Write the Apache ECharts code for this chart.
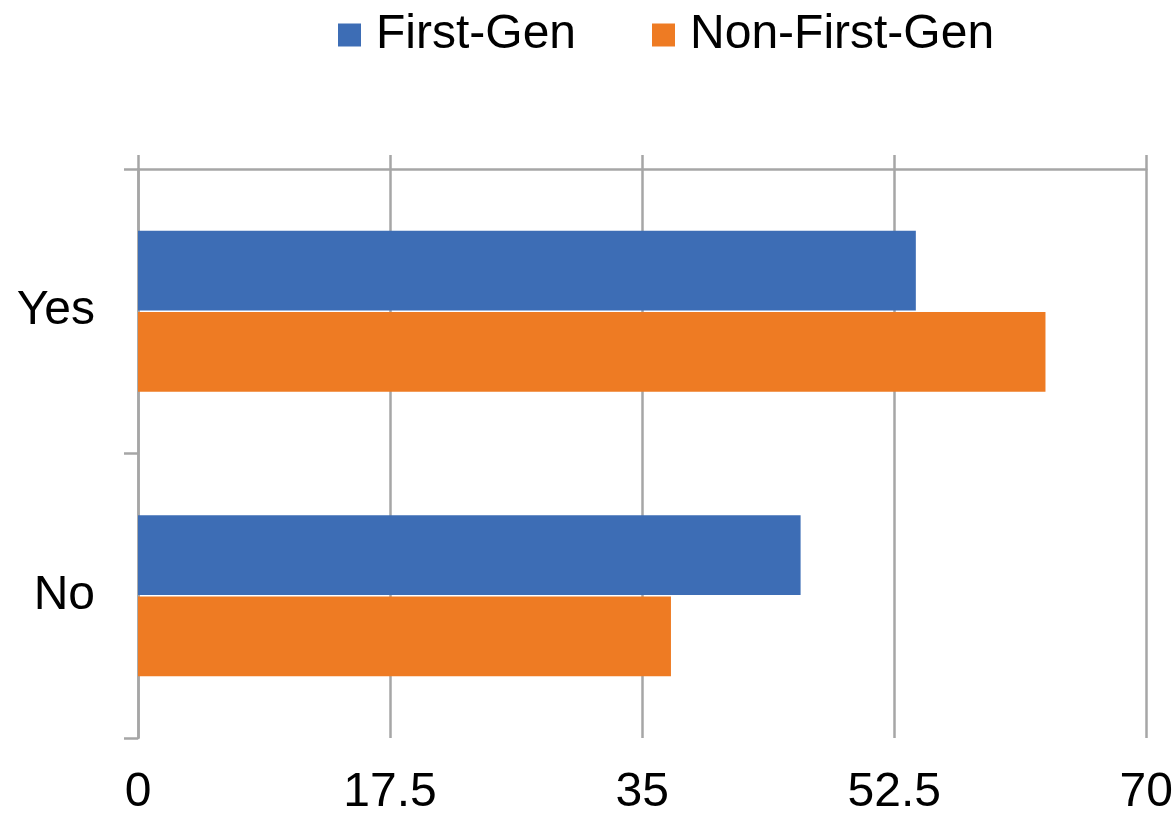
<!DOCTYPE html>
<html>
<head>
<meta charset="utf-8">
<script src="https://cdn.jsdelivr.net/npm/echarts@6/dist/echarts.min.js"></script>
<style>
  html, body { margin: 0; padding: 0; background: #fff; }
  #chart { width: 1176px; height: 817px; }
</style>
</head>
<body>
<div id="chart"></div>
<script>
// Survey responses, split by first-generation status
const categories = ['Yes', 'No'];
const seriesNames = ['First-Gen', 'Non-First-Gen'];
const firstGen = [54, 46];
const nonFirstGen = [63, 37];
const axisMin = 0;
const axisMax = 70;
const axisStep = 17.5;

const FONT = "'Liberation Sans', Arial, sans-serif";
const FONT_SIZE = 48;
const GRID_GRAY = '#a6a6a6';
const COLORS = ['#3d6db5', '#ee7b23'];

const chart = echarts.init(document.getElementById('chart'), null, { renderer: 'canvas' });

const valueAxisBase = {
  type: 'value',
  min: axisMin,
  max: axisMax,
  interval: axisStep
};

chart.setOption({
  animation: false,
  backgroundColor: '#fff',
  color: COLORS,
  textStyle: { fontFamily: FONT },
  legend: {
    left: 333,
    top: 6,
    itemWidth: 23,
    itemHeight: 23,
    itemGap: 76,
    icon: 'rect',
    data: seriesNames,
    textStyle: {
      fontFamily: FONT,
      fontSize: FONT_SIZE,
      color: '#000',
      padding: [0, 0, 0, 10]
    }
  },
  grid: {
    left: 138,
    right: 29,
    top: 169,
    bottom: 79,
    containLabel: false
  },
  xAxis: [
    Object.assign({}, valueAxisBase, {
      position: 'top',
      axisLine: { show: true, lineStyle: { color: GRID_GRAY, width: 2.5 } },
      axisTick: { show: true, length: 14, lineStyle: { color: GRID_GRAY, width: 2.5 } },
      axisLabel: { show: false },
      splitLine: { show: true, lineStyle: { color: GRID_GRAY, width: 2.5 } }
    }),
    Object.assign({}, valueAxisBase, {
      position: 'bottom',
      axisLine: { show: false },
      axisTick: { show: false },
      splitLine: { show: false },
      axisLabel: {
        show: true,
        margin: 31,
        fontFamily: FONT,
        fontSize: FONT_SIZE,
        color: '#000',
        formatter: v => String(v)
      }
    })
  ],
  yAxis: {
    type: 'category',
    inverse: true,
    data: categories,
    axisLine: { show: true, lineStyle: { color: GRID_GRAY, width: 2.5 } },
    axisTick: { show: true, length: 14, lineStyle: { color: GRID_GRAY, width: 2.5 } },
    splitLine: { show: false },
    axisLabel: {
      margin: 43,
      fontFamily: FONT,
      fontSize: FONT_SIZE,
      color: '#000'
    }
  },
  series: [
    {
      name: seriesNames[0],
      type: 'bar',
      xAxisIndex: 0,
      data: firstGen,
      barCategoryGap: '43.4%',
      barGap: '2%',
      itemStyle: { color: COLORS[0] }
    },
    {
      name: seriesNames[1],
      type: 'bar',
      xAxisIndex: 0,
      data: nonFirstGen,
      barCategoryGap: '43.4%',
      barGap: '2%',
      itemStyle: { color: COLORS[1] }
    }
  ]
});
</script>
</body>
</html>
